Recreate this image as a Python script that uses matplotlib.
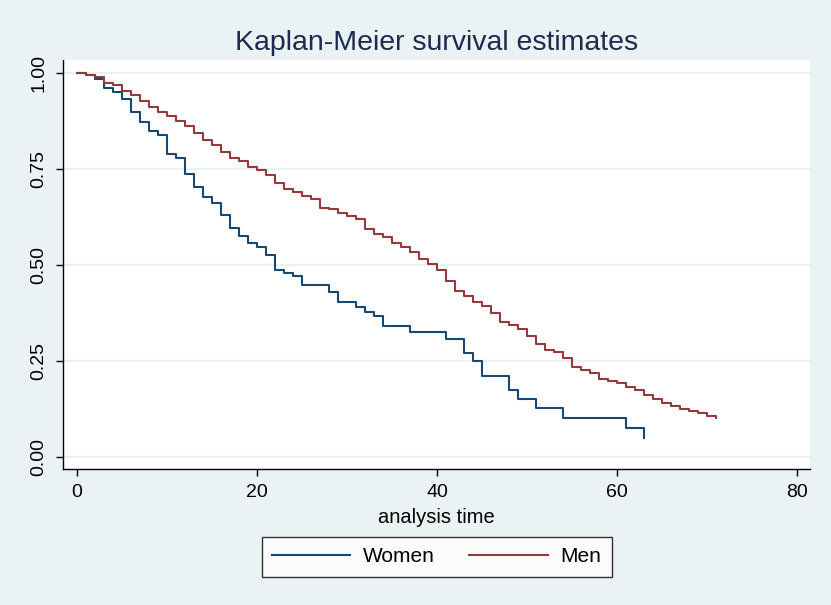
import matplotlib
matplotlib.use("Agg")
import matplotlib.pyplot as plt

plt.rcParams['font.family'] = ['Liberation Sans', 'DejaVu Sans']

# Kaplan-Meier estimates
women_t = [0, 1, 2, 3, 4, 5, 6, 7, 8, 9, 10, 11, 12, 13, 14, 15, 16, 17, 18, 19,
           20, 21, 22, 23, 24, 25, 28, 29, 31, 32, 33, 34, 37, 41, 43, 44, 45,
           48, 49, 51, 54, 61, 63]
women_s = [1.0, 0.994, 0.984, 0.961, 0.951, 0.932, 0.898, 0.872, 0.848, 0.838,
           0.789, 0.780, 0.737, 0.704, 0.678, 0.661, 0.631, 0.596, 0.577, 0.557,
           0.548, 0.526, 0.487, 0.480, 0.471, 0.447, 0.430, 0.404, 0.391, 0.379,
           0.367, 0.341, 0.326, 0.308, 0.270, 0.251, 0.211, 0.174, 0.152, 0.128,
           0.102, 0.077, 0.051]

men_t = list(range(0, 72))
men_s = [1.0, 0.996, 0.990, 0.975, 0.968, 0.954, 0.942, 0.928, 0.911, 0.898,
         0.888, 0.876, 0.862, 0.845, 0.827, 0.812, 0.794, 0.779, 0.772, 0.756,
         0.747, 0.734, 0.714, 0.697, 0.690, 0.681, 0.673, 0.649, 0.647, 0.636,
         0.628, 0.619, 0.593, 0.581, 0.572, 0.558, 0.546, 0.534, 0.516, 0.504,
         0.487, 0.458, 0.433, 0.419, 0.405, 0.393, 0.376, 0.353, 0.345, 0.333,
         0.315, 0.294, 0.279, 0.273, 0.258, 0.235, 0.228, 0.220, 0.204, 0.197,
         0.192, 0.183, 0.176, 0.161, 0.151, 0.140, 0.133, 0.124, 0.119, 0.114,
         0.107, 0.103]

xticks = [0, 20, 40, 60, 80]
yticks = [0.0, 0.25, 0.5, 0.75, 1.0]

bg = '#EAF2F3'
navy = '#1A476F'
maroon = '#97383E'

fig = plt.figure(figsize=(8.31, 6.05), dpi=100, facecolor=bg)
ax = fig.add_axes([0.0758, 0.2248, 0.899, 0.676])
ax.set_facecolor('white')

for yv in yticks:
    ax.axhline(yv, color=bg, lw=1.6, zorder=0)

ax.step(women_t, women_s, where='post', color=navy, lw=1.5, label='Women')
ax.step(men_t, men_s, where='post', color=maroon, lw=1.5, label='Men')

ax.set_xlim(-1.56, 81.44)
ax.set_ylim(-0.031, 1.034)
ax.set_xticks(xticks)
ax.set_yticks(yticks)
ax.set_yticklabels(['%.2f' % v for v in yticks], rotation=90, va='center')

for s in ['top', 'right']:
    ax.spines[s].set_visible(False)
for s in ['left', 'bottom']:
    ax.spines[s].set_linewidth(1.0)

ax.tick_params(axis='both', length=5, width=1, labelsize=14, pad=6)
ax.set_xlabel('analysis time', fontsize=14.5, labelpad=5)
ax.set_title('Kaplan-Meier survival estimates', fontsize=20.5, color='#1C2B4F', pad=7)

leg = fig.legend(loc='center', bbox_to_anchor=(0.5255, 0.0798), ncol=2,
                 fontsize=15, frameon=True, fancybox=False, edgecolor='black',
                 handlelength=3.75, handletextpad=0.62, columnspacing=1.65,
                 borderpad=0.5, borderaxespad=0)
leg.get_frame().set_linewidth(1.0)

fig.savefig('out.png', dpi=100, facecolor=bg)
